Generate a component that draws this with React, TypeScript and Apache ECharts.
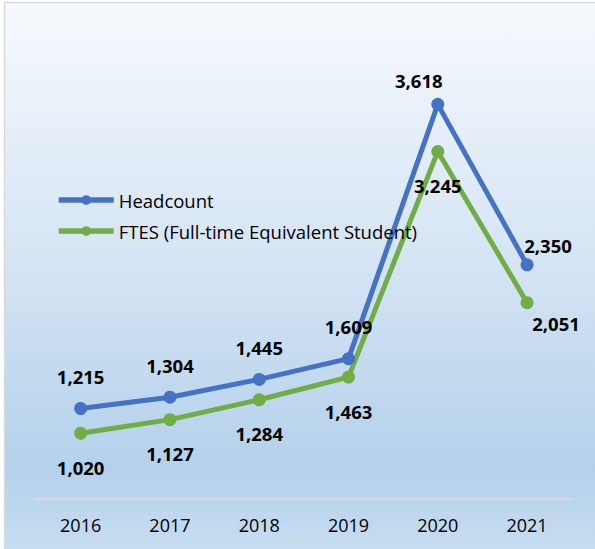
import React, { useEffect, useRef } from "react";
import * as echarts from "echarts";

const years = ["2016", "2017", "2018", "2019", "2020", "2021"];
const headcount = [1215, 1304, 1445, 1609, 3618, 2350];
const ftes = [1020, 1127, 1284, 1463, 3245, 2051];
const seriesNames = ["Headcount", "FTES (Full-time Equivalent Student)"];

// label offsets (style only)
const headcountLabelOffsets = [[0, 0], [0, 0], [0, 0], [0, 0], [-19, 8], [21, 13]];
const ftesLabelOffsets = [[0, 0], [0, 0], [0, 0], [0, 0], [0, 0], [29, -13]];

const FONT = "Open Sans";

export default function App() {
  const ref = useRef<HTMLDivElement>(null);
  useEffect(() => {
    if (!ref.current) return;
    const chart = echarts.init(ref.current, undefined, { renderer: "svg" });
    const fmt = (p: any) => Number(p.value).toLocaleString("en-US");
    chart.setOption({
      animation: false,
      graphic: [
        {
          type: "rect",
          silent: true,
          z: -10,
          shape: { x: 4.5, y: 2.5, width: 600, height: 560 },
          style: {
            fill: new echarts.graphic.LinearGradient(0, 0, 0, 1, [
              { offset: 0, color: "#f6f9fd" },
              { offset: 0.45, color: "#d6e5f4" },
              { offset: 0.83, color: "#b4d1eb" },
              { offset: 1, color: "#cadff1" },
            ]),
            stroke: "#d9d9d9",
            lineWidth: 1.5,
          },
        },
      ],
      legend: {
        orient: "vertical",
        left: 56,
        top: 190,
        padding: 0,
        itemWidth: 55,
        itemHeight: 12,
        itemGap: 11,
        lineStyle: { width: 5.5 },
        textStyle: { fontFamily: FONT, fontSize: 18.5, color: "#000", lineHeight: 20 },
        data: seriesNames,
      },
      grid: { left: 36, right: 23.3, top: 56, bottom: 50 },
      xAxis: {
        type: "category",
        data: years,
        boundaryGap: true,
        axisLine: { lineStyle: { color: "#d9d9d9", width: 2 } },
        axisTick: { show: false },
        axisLabel: { fontFamily: FONT, fontSize: 18, color: "#000", margin: 17 },
      },
      yAxis: {
        type: "value",
        min: 500,
        max: 4000,
        show: false,
        splitLine: { show: false },
      },
      series: [
        {
          name: seriesNames[0],
          type: "line",
          data: headcount.map((v, i) => ({
            value: v,
            label: { offset: headcountLabelOffsets[i] },
          })),
          symbol: "circle",
          symbolSize: 13,
          color: "#4472c4",
          lineStyle: { width: 5, color: "#4472c4" },
          itemStyle: { color: "#4472c4" },
          label: {
            show: true,
            position: "top",
            distance: 16,
            formatter: fmt,
            fontFamily: FONT,
            fontWeight: "bold",
            fontSize: 18.5,
            color: "#000",
          },
        },
        {
          name: seriesNames[1],
          type: "line",
          data: ftes.map((v, i) => ({
            value: v,
            label: { offset: ftesLabelOffsets[i] },
          })),
          symbol: "circle",
          symbolSize: 13,
          color: "#70ad47",
          lineStyle: { width: 5, color: "#70ad47" },
          itemStyle: { color: "#70ad47" },
          label: {
            show: true,
            position: "bottom",
            distance: 18,
            formatter: fmt,
            fontFamily: FONT,
            fontWeight: "bold",
            fontSize: 18.5,
            color: "#000",
          },
        },
      ],
    });
    return () => chart.dispose();
  }, []);
  return (
    <div
      ref={ref}
      style={{ position: "absolute", left: 0, top: 0, width: 595, height: 549 }}
    />
  );
}
